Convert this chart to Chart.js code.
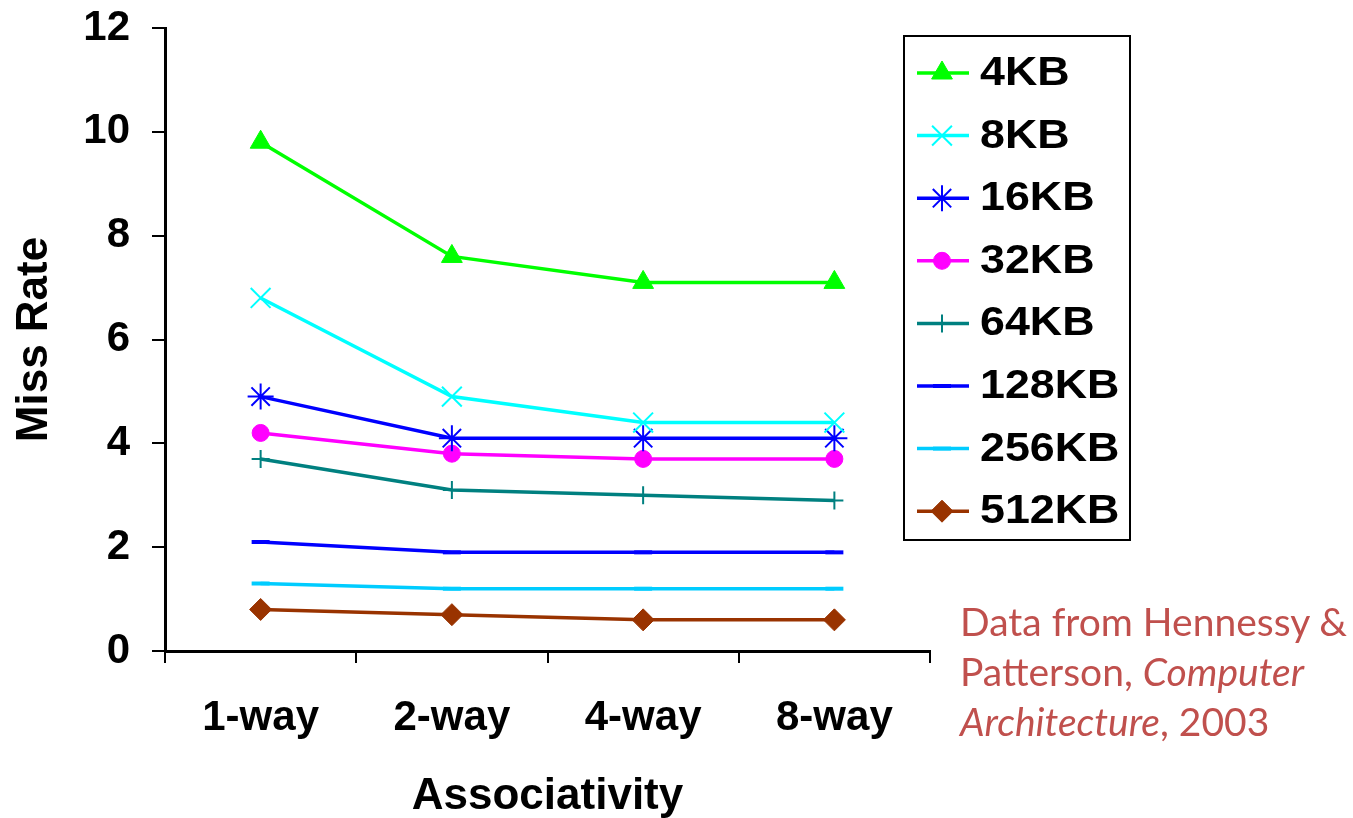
<!DOCTYPE html>
<html>
<head>
<meta charset="utf-8">
<script src="https://cdn.jsdelivr.net/npm/chart.js@4/dist/chart.umd.min.js"></script>
<style>
  html, body { margin: 0; padding: 0; background: #fff; }
  #wrap { position: relative; width: 1353px; height: 818px; }
  canvas { position: absolute; left: 0; top: 0; }
  #note { position: absolute; left: 960px; top: 596px; font-family: Lato, "Open Sans", sans-serif; font-size: 39px; line-height: 50px; color: #C0504D; white-space: nowrap; }
</style>
</head>
<body>
<div id="wrap">
  <canvas id="c" width="1353" height="818"></canvas>
  <div id="note">Data from Hennessy &amp;<br>Patterson, <i>Computer</i><br><i>Architecture</i>, 2003</div>
</div>
<script>
const categories = ['1-way', '2-way', '4-way', '8-way'];
const seriesNames = ['4KB', '8KB', '16KB', '32KB', '64KB', '128KB', '256KB', '512KB'];
const kb4   = [9.8, 7.6, 7.1, 7.1];
const kb8   = [6.8, 4.9, 4.4, 4.4];
const kb16  = [4.9, 4.1, 4.1, 4.1];
const kb32  = [4.2, 3.8, 3.7, 3.7];
const kb64  = [3.7, 3.1, 3.0, 2.9];
const kb128 = [2.1, 1.9, 1.9, 1.9];
const kb256 = [1.3, 1.2, 1.2, 1.2];
const kb512 = [0.8, 0.7, 0.6, 0.6];
const yTicks = [0, 2, 4, 6, 8, 10, 12];

const seriesValues = [kb4, kb8, kb16, kb32, kb64, kb128, kb256, kb512];
const styles = [
  { color: '#00FF00', point: 'triangle', radius: 12, pbw: 1 },
  { color: '#00FFFF', point: 'crossRot', radius: 14, pbw: 2 },
  { color: '#0000FF', point: 'star', radius: 13, pbw: 2 },
  { color: '#FF00FF', point: 'circle', radius: 8.5, pbw: 1 },
  { color: '#008080', point: 'cross', radius: 9, pbw: 2 },
  { color: '#0000FF', point: 'line', radius: 9, pbw: 4 },
  { color: '#00CCFF', point: 'line', radius: 9, pbw: 4 },
  { color: '#993300', point: 'rectRot', radius: 11, pbw: 1 }
];

const datasets = seriesNames.map((name, i) => ({
  label: name,
  data: seriesValues[i],
  borderColor: styles[i].color,
  backgroundColor: styles[i].color,
  borderWidth: 3.5,
  pointStyle: styles[i].point,
  pointRadius: styles[i].radius,
  pointHoverRadius: styles[i].radius,
  pointBorderWidth: styles[i].pbw,
  pointBorderColor: styles[i].color,
  pointBackgroundColor: styles[i].color,
  tension: 0,
  fill: false
}));

const legendPlugin = {
  id: 'boxLegend',
  afterDraw(chart) {
    const ctx = chart.ctx;
    const bx = 904, by = 36, bw = 226, bh = 504;
    ctx.save();
    ctx.fillStyle = '#fff';
    ctx.fillRect(bx, by, bw, bh);
    ctx.lineWidth = 2;
    ctx.strokeStyle = '#000';
    ctx.strokeRect(bx, by, bw, bh);
    const y0 = 73, step = 62.6;
    chart.data.datasets.forEach((ds, i) => {
      const y = y0 + i * step;
      ctx.strokeStyle = ds.borderColor;
      ctx.lineWidth = 3.5;
      ctx.beginPath();
      ctx.moveTo(917, y);
      ctx.lineTo(969, y);
      ctx.stroke();
      ctx.fillStyle = ds.pointBackgroundColor;
      ctx.strokeStyle = ds.pointBorderColor;
      ctx.lineWidth = ds.pointBorderWidth;
      Chart.helpers.drawPoint(ctx, {
        pointStyle: ds.pointStyle, radius: ds.pointRadius, borderWidth: ds.pointBorderWidth, rotation: 0
      }, 942, y);
      ctx.save();
      ctx.fillStyle = '#000';
      ctx.font = 'bold 40px "Liberation Sans", Arial, sans-serif';
      ctx.textAlign = 'left';
      ctx.textBaseline = 'middle';
      ctx.translate(980, y + 1);
      ctx.scale(1.12, 1);
      ctx.fillText(ds.label, 0, 0);
      ctx.restore();
    });
    ctx.restore();
  }
};

const tickFont = { family: '"Liberation Sans", Arial, sans-serif', size: 42, weight: 'bold' };
const titleFont = { family: '"Liberation Sans", Arial, sans-serif', size: 44, weight: 'bold', lineHeight: 1 };

new Chart(document.getElementById('c'), {
  type: 'line',
  data: { labels: categories, datasets },
  options: {
    responsive: false,
    animation: false,
    events: [],
    layout: { padding: { top: 28, right: 423, left: 0, bottom: 0 } },
    plugins: { legend: { display: false }, tooltip: { enabled: false } },
    scales: {
      x: {
        offset: true,
        grid: { offset: true, drawOnChartArea: false, drawTicks: true, tickLength: 12, color: '#000', lineWidth: 2 },
        border: { display: true, color: '#000', width: 3 },
        ticks: { color: '#000', font: tickFont, padding: 30, maxRotation: 0 },
        title: { display: true, text: 'Associativity', color: '#000', font: titleFont, padding: { top: 0, bottom: -1 } },
        afterFit(scale) { scale.height = 167; scale.paddingLeft = 0; scale.paddingRight = 0; }
      },
      y: {
        min: 0, max: 12,
        afterBuildTicks(scale) { scale.ticks = yTicks.map(v => ({ value: v })); },
        grid: { drawOnChartArea: false, drawTicks: true, tickLength: 13, color: '#000', lineWidth: 2 },
        border: { display: true, color: '#000', width: 3 },
        ticks: { color: '#000', font: tickFont, padding: 22 },
        title: { display: true, text: 'Miss Rate', color: '#000', font: titleFont, padding: { top: 13, bottom: 0 } },
        afterFit(scale) { scale.width = 165; scale.paddingTop = 0; scale.paddingBottom = 0; }
      }
    }
  },
  plugins: [legendPlugin]
});
</script>
</body>
</html>
